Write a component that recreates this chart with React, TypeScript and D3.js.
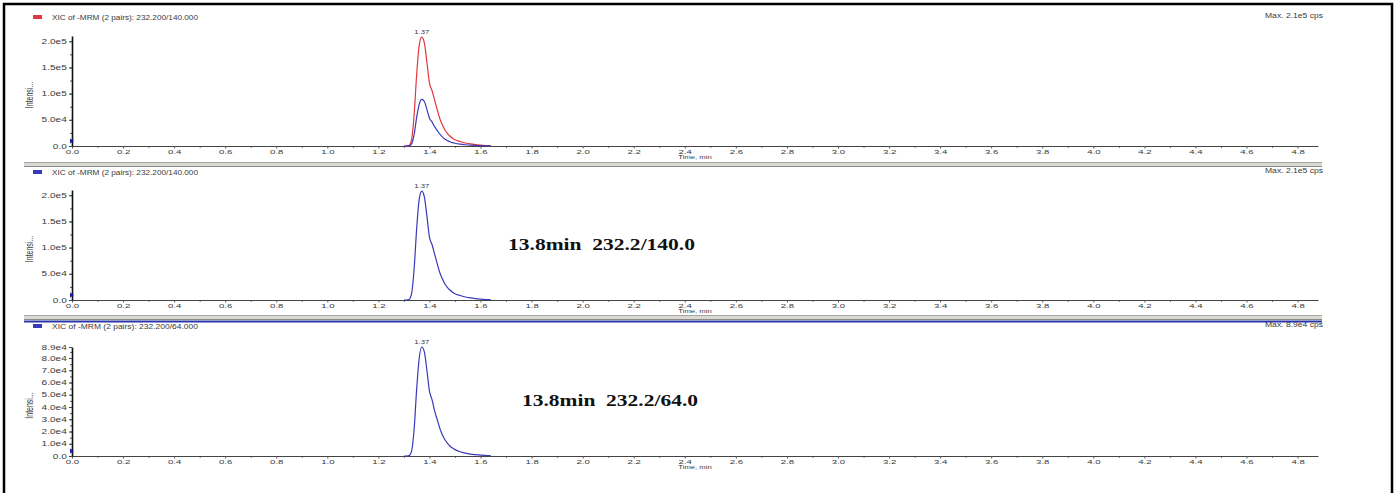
import React, { useEffect, useRef } from "react";
import * as d3 from "d3";

// retention time (min) of the sampled points around the peak
const times = [1.3, 1.31, 1.32, 1.33, 1.34, 1.35, 1.36, 1.37, 1.38, 1.39, 1.4, 1.41, 1.42, 1.43, 1.44, 1.45, 1.46, 1.47, 1.48, 1.49, 1.5, 1.52, 1.54, 1.56, 1.58, 1.6, 1.62, 1.64];
// 232.2/140.0 transition, cps
const xic140 = [0, 0, 1000, 12000, 60000, 137000, 193000, 208000, 197000, 160000, 120000, 106000, 88000, 70000, 53000, 41000, 31000, 24000, 19000, 15000, 12000, 8500, 5800, 3900, 2600, 1700, 1000, 600];
// 232.2/64.0 transition, cps
const xic64 = [0, 0, 300, 4000, 22000, 55000, 80000, 89000, 85000, 70000, 53000, 46000, 37000, 30000, 23000, 17500, 13500, 10500, 8200, 6500, 5200, 3500, 2400, 1600, 1100, 700, 450, 250];

const xTicks = [0, 0.2, 0.4, 0.6, 0.8, 1.0, 1.2, 1.4, 1.6, 1.8, 2.0, 2.2, 2.4, 2.6, 2.8, 3.0, 3.2, 3.4, 3.6, 3.8, 4.0, 4.2, 4.4, 4.6, 4.8];
const xTickLabels = ["0.0", "0.2", "0.4", "0.6", "0.8", "1.0", "1.2", "1.4", "1.6", "1.8", "2.0", "2.2", "2.4", "2.6", "2.8", "3.0", "3.2", "3.4", "3.6", "3.8", "4.0", "4.2", "4.4", "4.6", "4.8"];

const yTicksA = [0, 50000, 100000, 150000, 200000];
const yLabelsA = ["0.0", "5.0e4", "1.0e5", "1.5e5", "2.0e5"];
const yTicksB = [0, 10000, 20000, 30000, 40000, 50000, 60000, 70000, 80000, 89000];
const yLabelsB = ["0.0", "1.0e4", "2.0e4", "3.0e4", "4.0e4", "5.0e4", "6.0e4", "7.0e4", "8.0e4", "8.9e4"];

const RED = "#e0383c";
const BLUE = "#3a3ab8";
const SANS = "'Liberation Sans', Arial, sans-serif";

const App = () => {
  const ref = useRef<SVGSVGElement>(null);

  useEffect(() => {
    const width = 1399;
    const height = 493;
    const svg = d3.select(ref.current);
    svg.selectAll("*").remove();

    const x = d3.scaleLinear().domain([0, 4.88]).range([72, 1318]);

    const panels = [
      { title: "XIC of -MRM (2 pairs): 232.200/140.000", swatch: RED, max: "Max. 2.1e5 cps", head: 20, top: 36, bottom: 146, yMax: 210000, ticks: yTicksA, labels: yLabelsA, minor: 25000, traces: [{ v: xic140, c: RED }, { v: xic64, c: BLUE }], note: null as null | { t: string; x: number; y: number; w: number } },
      { title: "XIC of -MRM (2 pairs): 232.200/140.000", swatch: BLUE, max: "Max. 2.1e5 cps", head: 175, top: 190, bottom: 300, yMax: 210000, ticks: yTicksA, labels: yLabelsA, minor: 25000, traces: [{ v: xic140, c: BLUE }], note: { t: "13.8min  232.2/140.0", x: 508, y: 250, w: 187 } },
      { title: "XIC of -MRM (2 pairs): 232.200/64.000", swatch: BLUE, max: "Max. 8.9e4 cps", head: 329, top: 347, bottom: 456, yMax: 89000, ticks: yTicksB, labels: yLabelsB, minor: 5000, traces: [{ v: xic64, c: BLUE }], note: { t: "13.8min  232.2/64.0", x: 522, y: 406, w: 176 } },
    ];

    const small = (sel: any) =>
      sel.attr("font-family", SANS).attr("font-size", 6.5).attr("fill", "#3a3a3a");

    panels.forEach((p) => {
      const y = d3.scaleLinear().domain([0, p.yMax]).range([p.bottom, p.top]);
      const g = svg.append("g");

      // header
      g.append("rect").attr("x", 33).attr("y", p.head - 5).attr("width", 9).attr("height", 4).attr("fill", p.swatch);
      small(g.append("text").attr("x", 52).attr("y", p.head).attr("textLength", 146).attr("lengthAdjust", "spacingAndGlyphs").text(p.title));
      small(g.append("text").attr("x", 1265).attr("y", p.head - 2).attr("textLength", 58).attr("lengthAdjust", "spacingAndGlyphs").text(p.max));

      // y label
      small(g.append("text"))
        .attr("transform", `translate(33,${(p.top + p.bottom) / 2 + 4}) rotate(-90) scale(1,1.5)`)
        .attr("text-anchor", "middle")
        .attr("font-size", 7)
        .text("Intensi...");

      // minor ticks
      g.append("g")
        .attr("transform", "translate(72,0)")
        .call(d3.axisLeft(y).tickValues(d3.range(0, p.yMax, p.minor)).tickFormat(() => "").tickSize(2).tickSizeOuter(0))
        .call((a) => a.select(".domain").remove())
        .selectAll("line").attr("stroke", "#555");
      g.append("g")
        .attr("transform", `translate(0,${p.bottom})`)
        .call(d3.axisBottom(x).tickValues(d3.range(0.1, 4.85, 0.2)).tickFormat(() => "").tickSize(2).tickSizeOuter(0))
        .call((a) => a.select(".domain").remove())
        .selectAll("line").attr("stroke", "#777");

      // x axis
      const xa = g.append("g")
        .attr("transform", `translate(0,${p.bottom})`)
        .call(d3.axisBottom(x).tickValues(xTicks).tickFormat((d, i) => xTickLabels[i]).tickSize(2.5).tickSizeOuter(0));
      xa.select(".domain").attr("stroke", "#444").attr("stroke-width", 1);
      xa.selectAll("line").attr("stroke", "#555");
      small(xa.selectAll("text")).attr("font-size", 6).attr("y", 4).attr("dy", "0.71em").attr("transform", "scale(1.6,1)");

      // y axis
      const ya = g.append("g")
        .attr("transform", "translate(72,0)")
        .call(d3.axisLeft(y).tickValues(p.ticks).tickFormat((d, i) => p.labels[i]).tickSize(3).tickSizeOuter(0));
      ya.select(".domain").attr("stroke", "#111").attr("stroke-width", 1.6);
      ya.selectAll("line").attr("stroke", "#444");
      small(ya.selectAll("text")).attr("x", -3.4).attr("transform", "scale(1.55,1)");

      small(g.append("text"))
        .attr("transform", `translate(695,${p.bottom + 13.3}) scale(1.4,1)`)
        .attr("text-anchor", "middle")
        .attr("font-size", 5.5)
        .text("Time, min");

      // start marker
      g.append("path")
        .attr("d", `M70,${p.bottom - 7.5}L74,${p.bottom - 5}L70,${p.bottom - 2.5}Z`)
        .attr("fill", "#1c1ca0");

      // traces
      const line = d3.line<number>()
        .x((d, i) => x(times[i]))
        .y((d) => y(d))
        .curve(d3.curveMonotoneX);
      p.traces.forEach((t) => {
        g.append("path").attr("d", line(t.v)).attr("fill", "none").attr("stroke", t.c).attr("stroke-width", 1.2);
      });

      // apex label
      const top = p.traces[0].v;
      const iMax = d3.maxIndex(top);
      small(g.append("text"))
        .attr("transform", `translate(${x(times[iMax])},${y(top[iMax]) - 3}) scale(1.4,1)`)
        .attr("text-anchor", "middle")
        .attr("font-size", 5.5)
        .text(times[iMax].toFixed(2));

      if (p.note) {
        g.append("text")
          .attr("x", p.note.x)
          .attr("y", p.note.y)
          .attr("textLength", p.note.w)
          .attr("lengthAdjust", "spacingAndGlyphs")
          .attr("font-family", "'Liberation Serif', 'Times New Roman', serif")
          .attr("font-weight", "bold")
          .attr("font-size", 16)
          .attr("fill", "#111")
          .style("white-space", "pre")
          .text(p.note.t);
      }
    });

    // pane splitters
    [162, 315].forEach((sy) => {
      svg.append("rect").attr("x", 24).attr("y", sy).attr("width", 1298).attr("height", 5).attr("fill", "#dcd9d2");
      svg.append("line").attr("x1", 24).attr("x2", 1322).attr("y1", sy + 0.5).attr("y2", sy + 0.5).attr("stroke", "#a5a5a5");
      svg.append("line").attr("x1", 24).attr("x2", 1322).attr("y1", sy + 4.5).attr("y2", sy + 4.5).attr("stroke", "#8a8a8a");
    });
    svg.append("line").attr("x1", 24).attr("x2", 1322).attr("y1", 321.5).attr("y2", 321.5).attr("stroke", "#2a36a6").attr("stroke-width", 2);

    // frame
    svg.append("rect")
      .attr("x", 4).attr("y", 4).attr("width", 1388).attr("height", 520)
      .attr("fill", "none").attr("stroke", "#000").attr("stroke-width", 2.5);

    svg.attr("width", width).attr("height", height);
  }, []);

  return <svg ref={ref} style={{ position: "absolute", left: 0, top: 0, background: "#fff" }} />;
};

export default App;
